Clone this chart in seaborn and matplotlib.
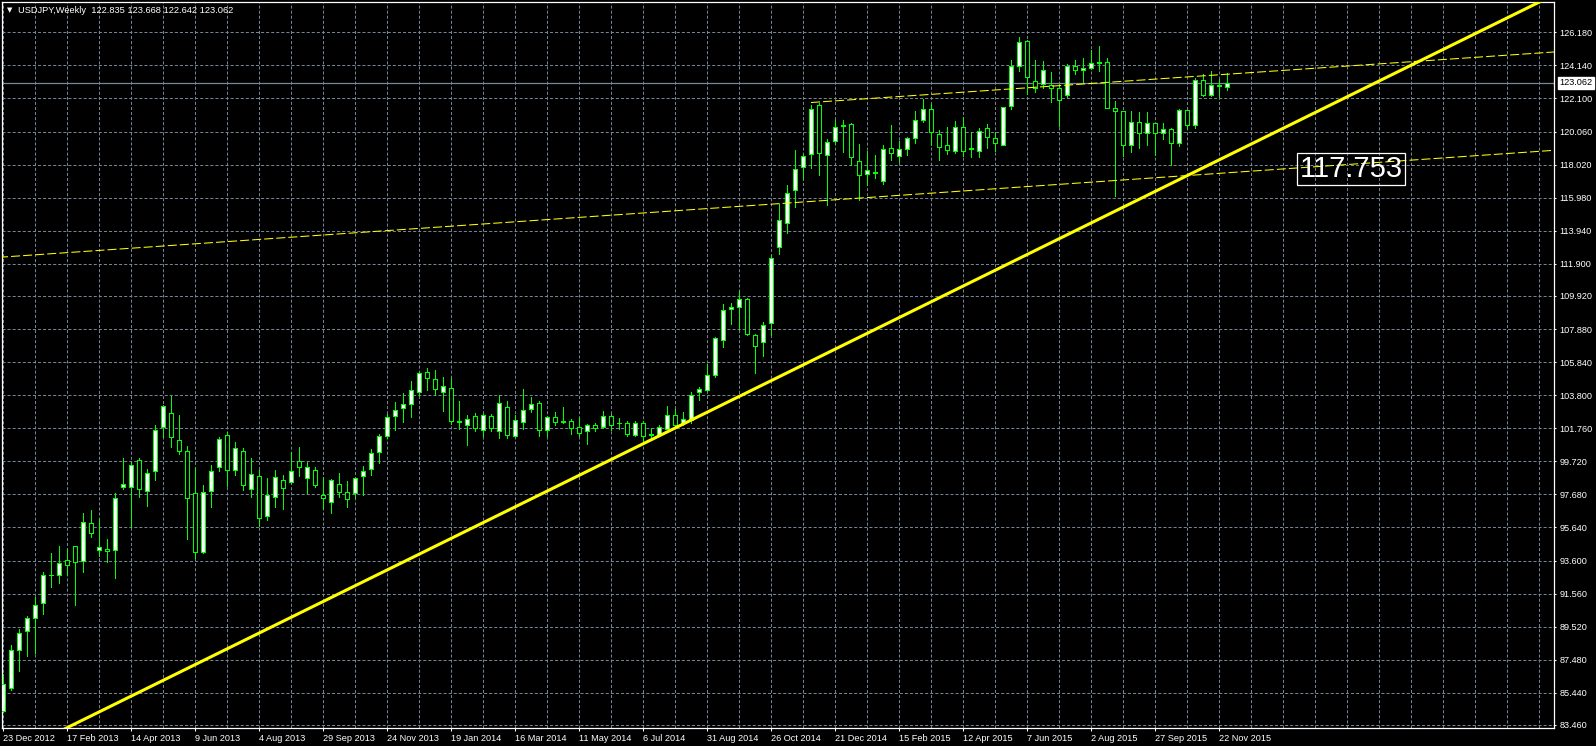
import numpy as np
import pandas as pd
import matplotlib
matplotlib.use('agg')
import matplotlib.pyplot as plt
import matplotlib.transforms as mtrans
import seaborn as sns

# weekly USDJPY candles, starting week of 23 Dec 2012
opens = [84.33, 85.73, 88.08, 89.26, 90.06, 90.99, 92.72, 92.72, 93.64, 94.51,
         93.58, 95.93, 94.26, 94.32, 94.24, 98.13, 98.13, 99.82, 97.89, 99.14,
         101.86, 102.73, 101.06, 100.38, 97.78, 94.12, 97.91, 99.39, 101.37, 99.21,
         100.38, 98.03, 98.84, 96.32, 97.54, 98.55, 98.42, 99.72, 98.67, 99.17,
         97.62, 97.19, 98.30, 97.81, 97.74, 98.79, 99.23, 100.28, 101.27, 102.50,
         103.00, 103.24, 103.99, 105.22, 104.79, 103.99, 104.23, 102.19, 101.93, 102.50,
         101.62, 102.50, 101.56, 103.06, 101.25, 102.13, 102.94, 103.31, 101.62, 102.44,
         102.19, 102.23, 101.86, 101.58, 101.95, 101.86, 102.50, 102.08, 102.11, 101.37,
         102.07, 101.38, 101.37, 101.74, 102.56, 102.08, 102.26, 103.99, 104.12, 105.02,
         107.21, 109.12, 109.25, 109.74, 107.52, 107.08, 108.26, 112.95, 114.44, 116.48,
         117.90, 118.70, 121.67, 118.64, 119.50, 120.45, 120.55, 118.27, 117.46, 117.55,
         117.03, 119.07, 118.58, 119.01, 119.69, 120.80, 121.42, 119.88, 119.20, 118.89,
         120.31, 119.02, 118.89, 120.25, 119.69, 119.26, 121.63, 124.08, 125.62, 123.15,
         122.97, 122.91, 122.72, 122.29, 124.08, 123.83, 123.96, 124.32, 124.33, 121.54,
         121.30, 119.20, 120.62, 120.00, 120.56, 120.00, 120.19, 119.38, 121.36, 120.49,
         123.21, 122.29, 122.90, 122.835]
highs = [86.60, 88.39, 89.38, 90.20, 91.34, 92.92, 94.04, 94.47, 94.32, 94.51,
         96.55, 96.69, 96.18, 94.94, 97.76, 99.95, 99.68, 99.93, 99.27, 101.99,
         103.20, 103.74, 102.56, 100.69, 99.29, 98.28, 99.47, 101.23, 101.54, 100.90,
         100.52, 99.95, 99.17, 98.69, 99.19, 98.86, 100.28, 100.61, 99.68, 99.35,
         98.77, 98.65, 98.98, 98.49, 98.77, 99.41, 100.49, 101.39, 102.63, 103.37,
         103.92, 104.67, 105.20, 105.47, 105.35, 104.91, 104.85, 103.43, 102.57, 102.69,
         102.63, 102.63, 103.80, 103.43, 102.57, 104.17, 103.68, 103.43, 102.50, 102.75,
         103.06, 102.35, 102.48, 102.00, 102.11, 102.81, 102.63, 102.38, 102.23, 102.23,
         102.23, 101.80, 101.95, 103.12, 102.94, 102.77, 103.98, 104.28, 105.72, 107.40,
         109.43, 109.49, 110.23, 109.80, 107.55, 108.32, 112.46, 115.61, 116.78, 118.95,
         118.70, 121.67, 121.83, 119.63, 120.80, 120.80, 120.60, 119.32, 118.89, 118.64,
         119.20, 120.49, 119.50, 119.75, 121.30, 122.04, 121.73, 120.18, 120.37, 120.74,
         120.93, 120.06, 120.30, 120.50, 120.06, 121.60, 124.45, 125.87, 125.70, 124.45,
         124.39, 123.71, 122.97, 124.20, 124.45, 124.57, 125.07, 125.32, 124.57, 121.92,
         121.32, 121.30, 121.24, 121.24, 120.58, 120.56, 120.25, 121.42, 121.40, 123.34,
         123.58, 123.77, 123.28, 123.668]
lows = [84.23, 85.61, 86.76, 87.73, 87.88, 90.31, 91.95, 92.20, 92.68, 90.86,
        92.88, 95.04, 93.85, 93.50, 92.51, 97.99, 95.66, 97.52, 96.94, 98.55,
        101.22, 100.61, 100.15, 94.92, 93.75, 94.06, 96.90, 99.12, 98.18, 98.86,
        97.97, 97.52, 95.70, 96.12, 96.92, 96.78, 98.36, 98.80, 97.74, 98.12,
        96.80, 96.55, 97.54, 96.92, 97.44, 97.62, 98.90, 99.60, 101.14, 101.64,
        102.13, 102.48, 103.80, 104.11, 103.80, 102.85, 102.00, 101.74, 100.75, 101.56,
        101.25, 101.56, 101.18, 101.18, 101.20, 101.74, 102.79, 101.31, 101.31, 101.93,
        102.07, 101.43, 101.25, 100.81, 101.58, 101.76, 101.62, 101.74, 101.31, 101.25,
        101.00, 101.18, 101.31, 101.70, 101.80, 101.99, 102.10, 103.50, 104.05, 104.95,
        106.75, 108.19, 107.89, 107.50, 105.15, 106.20, 107.52, 112.52, 113.82, 115.43,
        117.16, 117.84, 117.38, 115.55, 119.32, 118.82, 118.02, 115.86, 116.79, 117.22,
        116.85, 118.31, 118.21, 118.64, 119.38, 120.62, 119.26, 118.33, 118.70, 118.76,
        118.58, 118.50, 118.46, 119.07, 118.89, 119.20, 121.42, 123.77, 122.35, 122.47,
        122.72, 121.90, 120.41, 122.20, 123.58, 123.09, 123.89, 123.77, 121.50, 116.11,
        118.58, 118.77, 119.07, 119.20, 118.64, 119.63, 118.02, 119.14, 120.19, 120.25,
        122.23, 122.23, 122.16, 122.642]
closes = [85.98, 88.08, 89.13, 90.06, 90.86, 92.72, 92.70, 93.46, 93.34, 93.50,
          95.97, 95.31, 94.45, 94.18, 97.48, 98.34, 99.52, 98.01, 99.02, 101.62,
          103.16, 101.22, 100.36, 97.48, 94.12, 97.85, 99.14, 101.12, 99.21, 100.57,
          98.28, 98.96, 96.20, 97.62, 98.73, 98.09, 99.10, 99.35, 99.35, 98.24,
          97.44, 98.55, 97.81, 97.37, 98.67, 99.10, 100.22, 101.27, 102.44, 102.87,
          103.24, 104.11, 105.16, 104.85, 104.17, 104.36, 102.23, 102.15, 102.32, 101.80,
          102.56, 101.80, 103.31, 101.37, 102.26, 102.87, 103.24, 101.64, 102.44, 102.17,
          102.17, 101.80, 101.49, 101.95, 101.76, 102.50, 101.99, 102.06, 101.43, 102.07,
          101.31, 101.36, 101.82, 102.56, 101.99, 102.32, 103.81, 104.18, 105.04, 107.33,
          109.06, 109.25, 109.74, 107.56, 106.81, 108.13, 112.27, 114.62, 116.29, 117.77,
          118.58, 121.42, 118.76, 119.44, 120.37, 120.40, 118.52, 117.40, 117.71, 117.52,
          119.01, 118.76, 119.01, 119.69, 120.80, 121.42, 120.06, 119.13, 118.95, 120.31,
          118.89, 119.00, 120.12, 119.75, 119.38, 121.55, 124.12, 125.56, 123.40, 122.72,
          123.83, 122.72, 121.98, 124.08, 123.83, 123.96, 124.27, 124.30, 121.54, 121.30,
          119.20, 120.62, 120.00, 120.56, 120.00, 120.19, 119.38, 121.36, 120.49, 123.21,
          122.29, 122.90, 122.86, 123.062]

date_labels = ['23 Dec 2012', '17 Feb 2013', '14 Apr 2013', '9 Jun 2013', '4 Aug 2013',
               '29 Sep 2013', '24 Nov 2013', '19 Jan 2014', '16 Mar 2014', '11 May 2014',
               '6 Jul 2014', '31 Aug 2014', '26 Oct 2014', '21 Dec 2014', '15 Feb 2015',
               '12 Apr 2015', '7 Jun 2015', '2 Aug 2015', '27 Sep 2015', '22 Nov 2015']
price_ticks = [126.180, 124.140, 122.100, 120.060, 118.020, 115.980, 113.940, 111.900,
               109.920, 107.880, 105.840, 103.800, 101.760, 99.720, 97.680, 95.640,
               93.600, 91.560, 89.520, 87.480, 85.440, 83.460]

# trendline anchors (bar index, price)
support_pts = ([7.9, 154.6], [83.27, 118.95])
upper_pts = ([100.96, 154.6], [121.85, 123.65])
lower_pts = ([84.8, 154.6], [115.20, 117.57])
last_price = 123.062
label_pt = (168.5, 117.753)

df = pd.DataFrame({'open': opens, 'high': highs, 'low': lows, 'close': closes})
df['x'] = np.arange(len(df))
df['bull'] = df['close'] > df['open']

sns.set_theme(style='dark', rc={'axes.facecolor': 'black', 'figure.facecolor': 'black',
                                'axes.edgecolor': 'white', 'text.color': 'white',
                                'xtick.color': 'white', 'ytick.color': 'white'})
plt.rcParams['font.family'] = ['Liberation Sans', 'DejaVu Sans']
plt.rcParams['lines.scale_dashes'] = False

fig = plt.figure(figsize=(15.96, 7.46), dpi=100)
ax = fig.add_axes([2/1596, 18/746, 1552/1596, 726/746])
ax.set_facecolor('black')

lime = '#00ff00'
grid_col = '#778899'

# wicks
ax.vlines(df['x'], df['low'], df['high'], color=lime, lw=0.7, zorder=3, antialiased=False)
# bodies
bot = df[['open', 'close']].min(axis=1)
hgt = (df['close'] - df['open']).abs()
ax.bar(df['x'], hgt, bottom=bot, width=0.52, color=np.where(df['bull'], 'white', 'black'),
       edgecolor=lime, linewidth=0.6, zorder=4, antialiased=False)

# trendlines, extended as rays
xs = np.array([-5, 200])
def ray(pts, xs):
    k, b = np.polyfit(pts[0], pts[1], 1)
    return k * xs + b
sns.lineplot(x=xs, y=ray(support_pts, xs), ax=ax, color='#ffff00', lw=2.2, zorder=6)
xs_up = np.array([upper_pts[0][0], 200])
ax.plot(xs_up, ray(upper_pts, xs_up), color='#ffff00', lw=0.75, dashes=(6.5, 2.2), zorder=6)
ax.plot(xs, ray(lower_pts, xs), color='#ffff00', lw=0.75, dashes=(6.5, 2.2), zorder=6)

ax.axhline(last_price, color=grid_col, lw=0.9, zorder=2)

ax.set_xlim(-0.1625, 193.84)
ax.set_ylim(83.27, 128.05)

ax.set_xticks(np.arange(0, 153, 8))
ax.set_xticklabels(date_labels, ha='left')
ax.set_xticks(np.arange(0, 194, 4), minor=True)
ax.set_yticks(price_ticks)
ax.set_yticklabels(['%.3f' % p for p in price_ticks])
ax.yaxis.tick_right()
ax.tick_params(axis='x', which='major', length=2.5, width=0.75, pad=2, labelsize=6.6,
               colors='white', bottom=True)
ax.tick_params(axis='x', which='minor', length=0)
ax.tick_params(axis='y', length=1.6, width=0.75, pad=2.2, labelsize=6.6, colors='white',
               right=True, left=False)
ax.grid(True, which='both', axis='x', color=grid_col, lw=0.7, dashes=(2.2, 1.45), zorder=1)
ax.grid(True, which='major', axis='y', color=grid_col, lw=0.7, dashes=(2.2, 1.45), zorder=1)
for s in ax.spines.values():
    s.set_color('white')
    s.set_linewidth(0.9)

# current price tag on the scale
tr = mtrans.blended_transform_factory(ax.transAxes, ax.transData)
ax.text(1.0035, last_price, '%.3f' % last_price, transform=tr, ha='left', va='center',
        fontsize=6.6, color='black', zorder=7,
        bbox=dict(boxstyle='square,pad=0.18', fc='white', ec='white'), clip_on=False)

# price label object
ax.text(label_pt[0], label_pt[1], '%.3f' % label_pt[1], ha='center', va='center',
        fontsize=21, color='white', zorder=8,
        bbox=dict(boxstyle='square,pad=0.08', fc='none', ec='white', lw=0.9))

fig.text(9.5/1596, 1 - 10/746, '\u25bc', fontsize=5, color='white', ha='center',
         va='center', family='DejaVu Sans')
fig.text(18/1596, 1 - 10.5/746, 'USDJPY,Weekly  122.835 123.668 122.642 123.062',
         fontsize=6.7, color='white', ha='left', va='center')

fig.savefig('out.png', dpi=100, facecolor='black')
